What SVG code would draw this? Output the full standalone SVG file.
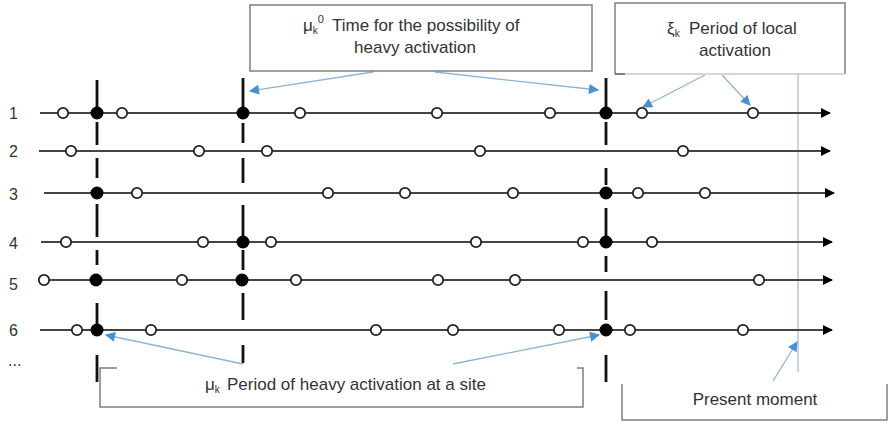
<svg xmlns="http://www.w3.org/2000/svg" width="889" height="424" viewBox="0 0 889 424">
<style>
.txt{font-family:"Liberation Sans",Arial,sans-serif;font-size:17px;fill:#333}
.num{font-family:"Liberation Sans",Arial,sans-serif;font-size:16px;fill:#333}
.row{stroke:#444;stroke-width:1.8;fill:none}
.open{fill:#fff;stroke:#222;stroke-width:1.8}
.full{fill:#000}
.dash{stroke:#111;stroke-width:2.8;fill:none}
.box{stroke:#7f7f7f;stroke-width:1.5;fill:none}
.blue{stroke:#8ab4d8;stroke-width:1.3;fill:none}
</style>
<defs>
<marker id="ah" viewBox="0 0 10 10" refX="9" refY="5" markerWidth="13" markerHeight="10" orient="auto" markerUnits="userSpaceOnUse"><path d="M0,0 L10,5 L0,10 z" fill="#000"/></marker>
<marker id="bh" viewBox="0 0 10 10" refX="9" refY="5" markerWidth="12" markerHeight="10" orient="auto" markerUnits="userSpaceOnUse"><path d="M0,0 L10,5 L0,10 z" fill="#4a90d0"/></marker>
</defs>

<!-- row labels -->
<g id="labels">
<text class="num" x="9" y="119">1</text>
<text class="num" x="9" y="157">2</text>
<text class="num" x="9" y="200">3</text>
<text class="num" x="9" y="249">4</text>
<text class="num" x="9" y="290">5</text>
<text class="num" x="9" y="336">6</text>
<text class="num" x="8" y="366">...</text>
</g>

<!-- present moment line -->
<line id="present-line" x1="798" y1="74" x2="798" y2="372" stroke="#a9c0d2" stroke-width="1.3"/>

<!-- time lines -->
<g id="connectors">
<line class="row" x1="40" y1="113" x2="830" y2="113" marker-end="url(#ah)"/>
<line class="row" x1="39" y1="151" x2="830" y2="151" marker-end="url(#ah)"/>
<line class="row" x1="44" y1="193" x2="834" y2="193" marker-end="url(#ah)"/>
<line class="row" x1="41" y1="242" x2="832" y2="242" marker-end="url(#ah)"/>
<line class="row" x1="42" y1="280" x2="832" y2="280" marker-end="url(#ah)"/>
<line class="row" x1="40" y1="330" x2="832" y2="330" marker-end="url(#ah)"/>

<!-- dashed vertical lines -->
<path class="dash" d="M97,80 V113 M97,122 V145 M97,158 V178 M97,204 V237 M97,250 V265 M97,303 V330 M97,355 V382"/>
<path class="dash" d="M243,78 V113 M243,123 V143 M243,158 V183 M243,205 V242 M243,250 V270 M243,293 V320 M243,345 V363"/>
<path class="dash" d="M606,78 V113 M606,122 V145 M606,168 V185 M606,208 V242 M606,256 V272 M606,291 V320 M606,355 V382"/>

<!-- blue arrows -->
<line class="blue" x1="373" y1="72" x2="250" y2="91" marker-end="url(#bh)"/>
<line class="blue" x1="435" y1="72" x2="598" y2="90" marker-end="url(#bh)"/>
<line class="blue" x1="705" y1="75" x2="643" y2="107" marker-end="url(#bh)"/>
<line class="blue" x1="722" y1="75" x2="750" y2="105" marker-end="url(#bh)"/>
<line class="blue" x1="243" y1="364" x2="106" y2="335" marker-end="url(#bh)"/>
<line class="blue" x1="453" y1="364" x2="599" y2="335" marker-end="url(#bh)"/>
<line class="blue" x1="773" y1="381" x2="797" y2="342" marker-end="url(#bh)"/>
</g>

<!-- events -->
<g id="row1">
<circle class="open" cx="63" cy="113" r="5.2"/><circle class="full" cx="97" cy="113" r="6.5"/><circle class="open" cx="122" cy="113" r="5.2"/><circle class="full" cx="243" cy="113" r="6.5"/><circle class="open" cx="300" cy="113" r="5.2"/><circle class="open" cx="437" cy="113" r="5.2"/><circle class="open" cx="550" cy="113" r="5.2"/><circle class="full" cx="606" cy="113" r="6.5"/><circle class="open" cx="642" cy="113" r="5.2"/><circle class="open" cx="753" cy="113" r="5.2"/>
</g>
<g id="row2">
<circle class="open" cx="71" cy="151" r="5.2"/><circle class="open" cx="199" cy="151" r="5.2"/><circle class="open" cx="267" cy="151" r="5.2"/><circle class="open" cx="480" cy="151" r="5.2"/><circle class="open" cx="683" cy="151" r="5.2"/>
</g>
<g id="row3">
<circle class="full" cx="97" cy="193" r="6.5"/><circle class="open" cx="137" cy="193" r="5.2"/><circle class="open" cx="328" cy="193" r="5.2"/><circle class="open" cx="405" cy="193" r="5.2"/><circle class="open" cx="513" cy="193" r="5.2"/><circle class="full" cx="606" cy="193" r="6.5"/><circle class="open" cx="638" cy="193" r="5.2"/><circle class="open" cx="705" cy="193" r="5.2"/>
</g>
<g id="row4">
<circle class="open" cx="66" cy="242" r="5.2"/><circle class="open" cx="203" cy="242" r="5.2"/><circle class="full" cx="243" cy="242" r="6.5"/><circle class="open" cx="271" cy="242" r="5.2"/><circle class="open" cx="476" cy="242" r="5.2"/><circle class="open" cx="583" cy="242" r="5.2"/><circle class="full" cx="606" cy="242" r="6.5"/><circle class="open" cx="652" cy="242" r="5.2"/>
</g>
<g id="row5">
<circle class="open" cx="44" cy="280" r="5.2"/><circle class="full" cx="96" cy="280" r="6.5"/><circle class="open" cx="182" cy="280" r="5.2"/><circle class="full" cx="242" cy="280" r="6.5"/><circle class="open" cx="296" cy="280" r="5.2"/><circle class="open" cx="438" cy="280" r="5.2"/><circle class="open" cx="515" cy="280" r="5.2"/><circle class="open" cx="759" cy="280" r="5.2"/>
</g>
<g id="row6">
<circle class="open" cx="77" cy="330" r="5.2"/><circle class="full" cx="97" cy="330" r="6.5"/><circle class="open" cx="151" cy="330" r="5.2"/><circle class="open" cx="376" cy="330" r="5.2"/><circle class="open" cx="453" cy="330" r="5.2"/><circle class="open" cx="559" cy="330" r="5.2"/><circle class="full" cx="606" cy="330" r="6.5"/><circle class="open" cx="630" cy="330" r="5.2"/><circle class="open" cx="743" cy="330" r="5.2"/>
</g>

<!-- boxes -->
<g id="box-mu0">
<rect class="box" x="250" y="5" width="342" height="66" fill="#fff"/>
<text class="txt" x="303" y="31">μ<tspan font-size="10" dy="3">k</tspan><tspan font-size="11" dy="-11">0</tspan><tspan x="332" dy="8">Time for the possibility of</tspan></text>
<text class="txt" x="415" y="53" text-anchor="middle">heavy activation</text>
</g>
<g id="box-xi">
<path class="box" d="M615,74 V3 H845 V74"/>
<path d="M615,74 H625" stroke="#555" stroke-width="1.5"/>
<path d="M625,74 H845" stroke="#c8c8c8" stroke-width="1.3"/>
<text class="txt" x="667" y="34">ξ<tspan font-size="10" dy="3">k</tspan><tspan x="689" dy="-3">Period of local</tspan></text>
<text class="txt" x="735" y="56" text-anchor="middle">activation</text>
</g>
<g id="box-mu">
<path class="box" d="M117,368 H100 V407 H583 V368 H577"/>
<text class="txt" x="205" y="390">μ<tspan font-size="10" dy="3">k</tspan><tspan x="227" dy="-3">Period of heavy activation at a site</tspan></text>
</g>
<g id="box-present">
<path class="box" d="M622,384 V420 H887 V384"/>
<text class="txt" x="755" y="405" text-anchor="middle">Present moment</text>
</g>
</svg>
